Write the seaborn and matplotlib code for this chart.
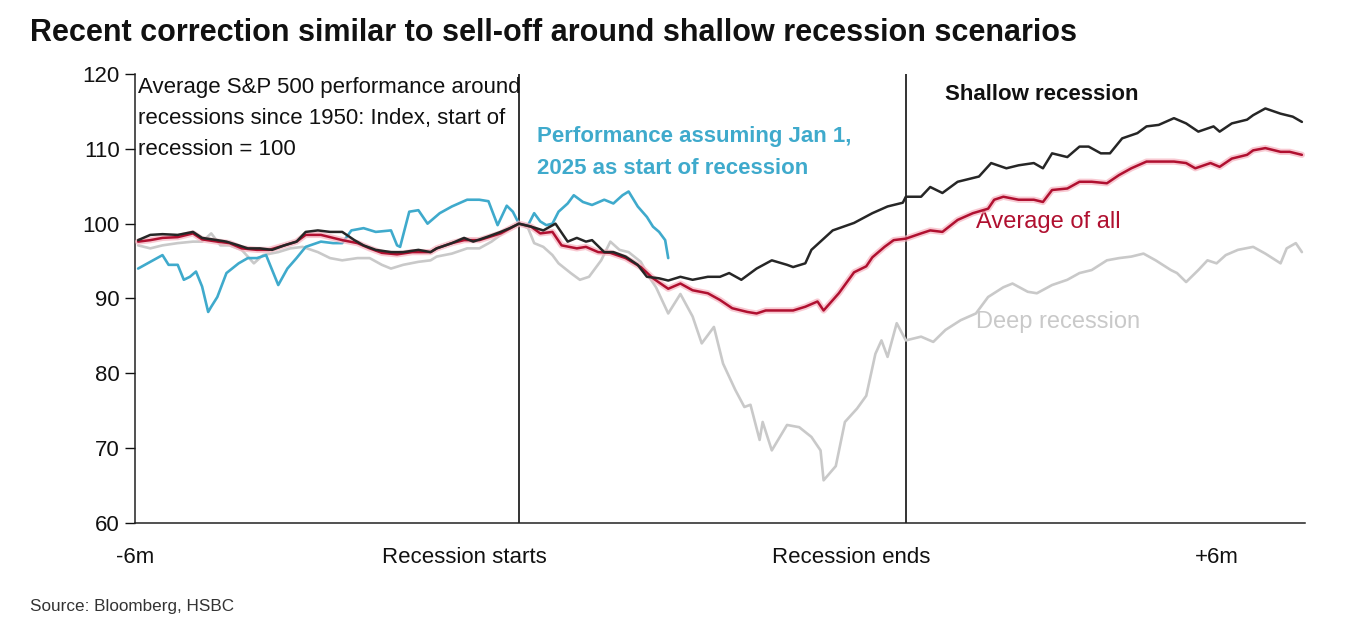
import matplotlib
matplotlib.use("Agg")
import matplotlib.pyplot as plt
import seaborn as sns
import numpy as np

# ---- data (x = trading days relative to recession start, y = index, start of recession = 100)
shallow_x = [-125,-121,-117,-112,-107,-104,-99,-96,-92,-89,-85,-81,-77,-73,-70,-66,-62,-58,-54,-51,-47,-42,-38,-33,-29,-27,-22,-18,-15,-10,-6,-3,0,4,8,12,16,19,22,24,28,31,35,39,42,46,49,53,57,62,66,69,73,78,83,88,90,94,96,103,110,116,121,126,127,132,135,139,144,149,151,155,160,164,169,172,175,180,184,187,191,194,198,203,206,210,215,219,223,228,230,234,239,241,245,250,254,257]
shallow_y = [97.8,98.5,98.6,98.5,98.9,98.1,97.8,97.6,97.1,96.7,96.7,96.5,97.1,97.6,98.9,99.1,98.9,98.9,97.8,97.1,96.5,96.2,96.2,96.5,96.2,96.7,97.4,98.1,97.6,98.3,98.9,99.4,100.0,99.6,99.1,100.0,97.6,98.1,97.6,97.8,96.2,96.2,95.6,94.5,92.9,92.7,92.4,92.9,92.5,92.9,92.9,93.4,92.5,94.0,95.1,94.5,94.2,94.7,96.5,99.1,100.1,101.4,102.3,102.8,103.6,103.6,104.9,104.1,105.6,106.1,106.3,108.1,107.4,107.8,108.1,107.4,109.4,108.9,110.3,110.3,109.4,109.4,111.4,112.1,113.0,113.2,114.1,113.4,112.3,113.0,112.3,113.4,113.9,114.5,115.4,114.7,114.3,113.6]

average_x = [-125,-121,-117,-112,-107,-104,-99,-95,-91,-86,-82,-77,-73,-70,-65,-61,-58,-53,-49,-45,-40,-35,-29,-27,-22,-18,-13,-6,0,4,7,11,14,19,22,26,30,35,40,44,49,53,57,62,66,70,75,78,81,86,90,94,98,100,105,110,114,116,120,123,127,132,135,139,144,149,154,156,159,164,169,172,175,180,184,188,193,197,201,206,210,215,219,222,227,230,234,239,241,245,250,253,257]
average_y = [97.6,97.8,98.1,98.2,98.7,97.9,97.6,97.4,96.7,96.5,96.5,97.1,97.6,98.5,98.5,98.1,97.8,97.4,96.7,96.1,95.9,96.2,96.2,96.7,97.4,97.8,97.8,98.7,100.0,99.6,98.7,98.9,97.1,96.7,96.9,96.2,96.1,95.4,94.2,92.7,91.3,92.0,91.1,90.7,89.8,88.7,88.2,88.0,88.4,88.4,88.4,88.9,89.6,88.4,90.7,93.5,94.3,95.5,96.9,97.8,98.0,98.7,99.1,98.9,100.5,101.4,102.0,103.2,103.6,103.2,103.2,102.9,104.5,104.7,105.6,105.6,105.4,106.5,107.4,108.3,108.3,108.3,108.1,107.4,108.1,107.6,108.7,109.2,109.8,110.1,109.6,109.6,109.2]

deep_x = [-125,-121,-117,-112,-107,-104,-101,-98,-95,-91,-87,-84,-79,-75,-71,-66,-62,-58,-53,-49,-45,-42,-38,-33,-29,-27,-22,-17,-13,-9,-4,0,3,5,8,11,13,17,20,23,27,30,33,36,40,43,45,49,53,57,60,64,67,71,74,76,79,80,83,88,92,96,99,100,104,107,111,114,117,119,121,124,127,132,136,140,145,150,154,159,162,167,170,175,180,184,188,193,197,201,205,209,214,216,219,223,226,229,232,236,241,245,250,252,255,257]
deep_y = [97.1,96.7,97.1,97.4,97.6,97.6,98.7,97.1,97.1,96.5,94.7,95.8,96.2,96.7,96.9,96.2,95.4,95.1,95.4,95.4,94.5,94.0,94.5,94.9,95.1,95.6,96.0,96.7,96.7,97.6,99.1,100.0,99.4,97.4,96.9,95.8,94.7,93.4,92.5,92.9,95.1,97.6,96.5,96.2,94.9,92.7,91.5,88.0,90.6,87.6,84.0,86.2,81.3,77.8,75.5,75.8,71.1,73.5,69.7,73.1,72.8,71.5,69.7,65.7,67.6,73.5,75.3,77.0,82.6,84.4,82.2,86.7,84.4,84.9,84.2,85.8,87.1,88.0,90.2,91.5,92.0,90.9,90.7,91.8,92.5,93.4,93.8,95.1,95.4,95.6,96.0,95.1,93.8,93.4,92.2,93.8,95.1,94.7,95.8,96.5,96.9,96.0,94.7,96.7,97.4,96.2]

y2025_x = [-125,-121,-117,-115,-112,-110,-108,-106,-104,-102,-101,-99,-96,-92,-89,-86,-83,-79,-76,-73,-70,-65,-61,-58,-55,-51,-47,-42,-40,-39,-36,-33,-30,-26,-22,-17,-13,-10,-7,-4,-2,0,3,5,7,9,11,13,16,18,21,24,28,31,34,36,39,42,44,46,48,49]
y2025_y = [94.0,94.9,95.8,94.5,94.5,92.5,92.9,93.6,91.6,88.2,88.9,90.2,93.4,94.7,95.4,95.4,95.8,91.8,94.0,95.4,96.9,97.6,97.4,97.4,99.1,99.4,98.9,99.1,97.1,96.9,101.6,101.8,100.0,101.4,102.3,103.2,103.2,103.0,99.8,102.4,101.6,100.0,99.8,101.4,100.3,99.8,100.0,101.6,102.7,103.8,102.9,102.5,103.2,102.7,103.8,104.3,102.3,100.9,99.6,98.9,97.8,95.4]

recession_start = 0
recession_end = 127
x_tick_pos = [-126, -18, 109, 229]
x_tick_labels = ["-6m", "Recession starts", "Recession ends", "+6m"]
y_ticks = [60, 70, 80, 90, 100, 110, 120]

# ---- style
sns.set_theme(style="white")
FONT = ["Liberation Sans Narrow", "Liberation Sans", "DejaVu Sans"]
plt.rcParams["font.family"] = FONT

BLACK = "#262626"
RED = "#B01030"
GREY = "#C9C9C9"
BLUE = "#3FAACC"

fig = plt.figure(figsize=(13.52, 6.22), dpi=100)
ax = fig.add_axes([0.0999, 0.1592, 0.8653, 0.7218])

sns.lineplot(x=deep_x, y=deep_y, ax=ax, color=GREY, lw=1.9, zorder=2)
sns.lineplot(x=y2025_x, y=y2025_y, ax=ax, color=BLUE, lw=1.9, zorder=3)
sns.lineplot(x=average_x, y=average_y, ax=ax, color="#F6B3BF", lw=4.5, alpha=0.7, zorder=3.5)
sns.lineplot(x=average_x, y=average_y, ax=ax, color=RED, lw=1.8, zorder=4)
sns.lineplot(x=shallow_x, y=shallow_y, ax=ax, color=BLACK, lw=1.8, zorder=5)

ax.axvline(recession_start, color="#111111", lw=1.2, zorder=1)
ax.axvline(recession_end, color="#111111", lw=1.2, zorder=1)

ax.set_xlim(-126, 258)
ax.set_ylim(60, 120)
ax.set_yticks(y_ticks)
ax.set_xticks(x_tick_pos)
ax.set_xticklabels(x_tick_labels)
ax.tick_params(axis="x", length=0, pad=17, labelsize=16, colors="#111111")
ax.tick_params(axis="y", length=7, width=1, direction="out", left=True,
               pad=4, labelsize=16, colors="#111111")
for s in ["top", "right"]:
    ax.spines[s].set_visible(False)
for s in ["left", "bottom"]:
    ax.spines[s].set_color("#222222")
    ax.spines[s].set_linewidth(1.1)
ax.set_xlabel("")
ax.set_ylabel("")
ax.grid(False)

# ---- annotations
ax.text(-125, 119.6, "Average S&P 500 performance around\nrecessions since 1950: Index, start of\nrecession = 100",
        fontsize=16, color="#111111", va="top", ha="left", linespacing=1.62)
ax.text(6, 113.1, "Performance assuming Jan 1,\n2025 as start of recession",
        fontsize=16, color=BLUE, fontweight="bold", va="top", ha="left", linespacing=1.7)
ax.text(140, 117.2, "Shallow recession", fontsize=16, color="#111111",
        fontweight="bold", va="center", ha="left")
ax.text(150, 100.2, "Average of all", fontsize=17, color=RED, va="center", ha="left")
ax.text(150, 86.8, "Deep recession", fontsize=17, color=GREY, va="center", ha="left")

fig.text(30 / 1352, 1 - 33 / 622, "Recent correction similar to sell-off around shallow recession scenarios",
         fontsize=22, fontweight="bold", color="#111111", va="center", ha="left",
         family=["Liberation Sans", "DejaVu Sans"])
fig.text(30 / 1352, 1 - 607 / 622, "Source: Bloomberg, HSBC", fontsize=12.3,
         color="#333333", va="center", ha="left")

fig.savefig("out.png", dpi=100)
